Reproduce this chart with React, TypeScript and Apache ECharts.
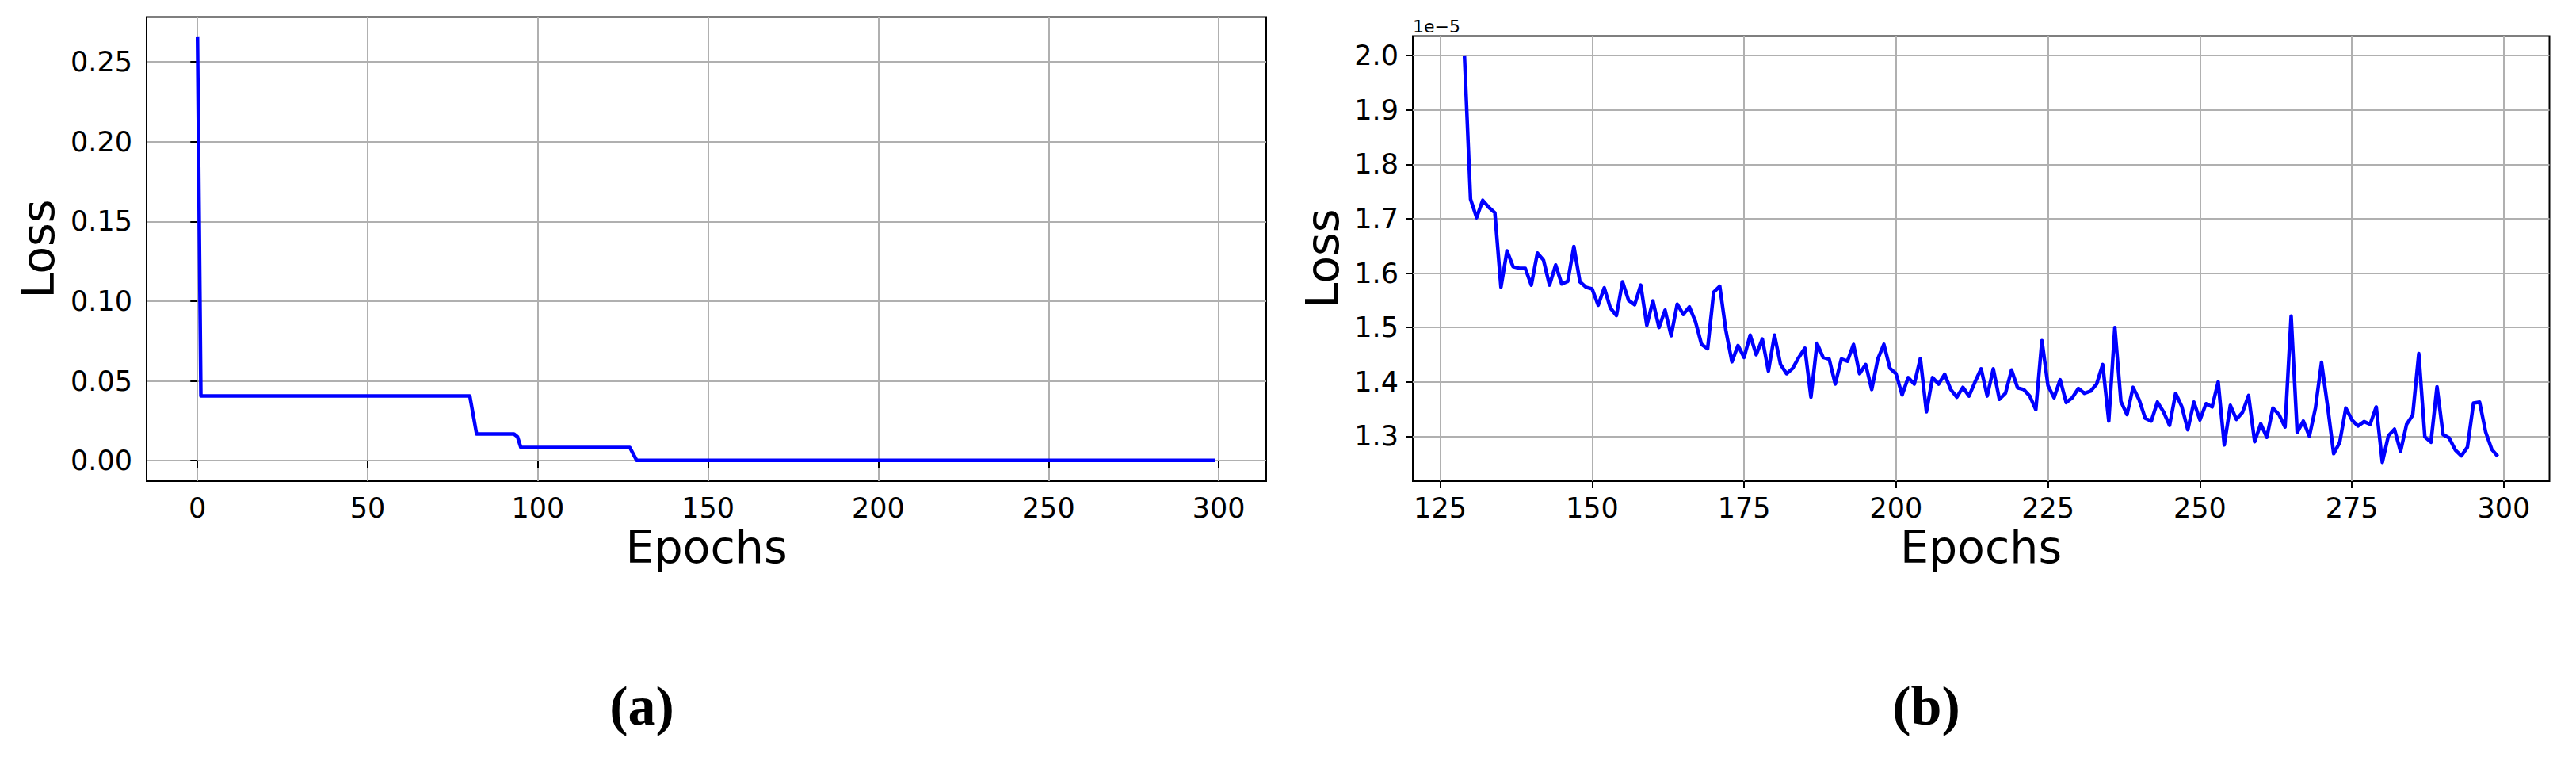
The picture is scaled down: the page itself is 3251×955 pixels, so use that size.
import React, { useEffect, useRef } from "react";
import * as echarts from "echarts";

// ---- Panel (a): full training loss (breakpoints of the piecewise curve) ----
const leftEpochs = [0, 1, 80, 81, 82, 93, 94, 95, 127, 128, 129, 299];
const leftLoss = [0.2655, 0.0406, 0.0406, 0.0286, 0.0167, 0.0167, 0.015, 0.0083, 0.0083, 0.0043, 0.0003, 0.0003];
const leftXTicks = [0, 50, 100, 150, 200, 250, 300];
const leftYTicks = [0, 0.05, 0.1, 0.15, 0.2, 0.25];

// ---- Panel (b): zoomed loss from epoch 129 to 299 (values in units of 1e-5) ----
const rightStartEpoch = 129;
const rightLoss = [
  1.999, 1.736, 1.702, 1.734, 1.721, 1.711, 1.574, 1.641, 1.612, 1.609,
  1.609, 1.578, 1.637, 1.624, 1.578, 1.615, 1.58, 1.585, 1.649, 1.584,
  1.574, 1.571, 1.541, 1.573, 1.536, 1.522, 1.584, 1.55, 1.542, 1.578,
  1.504, 1.549, 1.5, 1.532, 1.485, 1.543, 1.524, 1.538, 1.511, 1.469,
  1.461, 1.565, 1.576, 1.495, 1.437, 1.467, 1.445, 1.486, 1.45, 1.479,
  1.42, 1.486, 1.432, 1.415, 1.425, 1.445, 1.462, 1.372, 1.471, 1.445,
  1.442, 1.396, 1.442, 1.438, 1.469, 1.415, 1.432, 1.386, 1.442, 1.469,
  1.425, 1.415, 1.376, 1.408, 1.396, 1.443, 1.345, 1.408, 1.396, 1.414,
  1.386, 1.372, 1.39, 1.374, 1.4, 1.424, 1.374, 1.424, 1.368, 1.379,
  1.422, 1.389, 1.386, 1.374, 1.349, 1.476, 1.393, 1.371, 1.404, 1.362,
  1.371, 1.388, 1.379, 1.383, 1.396, 1.432, 1.328, 1.5, 1.364, 1.34,
  1.39, 1.367, 1.333, 1.328, 1.363, 1.345, 1.32, 1.379, 1.355, 1.312,
  1.363, 1.33, 1.36, 1.354, 1.4, 1.284, 1.357, 1.331, 1.344, 1.375,
  1.29, 1.323, 1.298, 1.352, 1.34, 1.317, 1.521, 1.307, 1.328, 1.3,
  1.352, 1.436, 1.355, 1.268, 1.289, 1.352, 1.33, 1.319, 1.327, 1.322,
  1.354, 1.252, 1.301, 1.313, 1.272, 1.322, 1.339, 1.452, 1.299, 1.289,
  1.391, 1.303, 1.297, 1.275, 1.264, 1.28, 1.361, 1.363, 1.308, 1.276,
  1.263,
];
const rightXTicks = [125, 150, 175, 200, 225, 250, 275, 300];
const rightYTicks = [1.3, 1.4, 1.5, 1.6, 1.7, 1.8, 1.9, 2.0];

const xLabel = "Epochs";
const yLabel = "Loss";
const offsetText = "1e\u22125";
const captions = ["(a)", "(b)"];

const TICK_FONT = "DejaVu Sans";

function makeXAxis(gridIndex: number, min: number, max: number, ticks: number[]) {
  return {
    type: "value",
    gridIndex,
    min,
    max,
    axisLine: { show: false },
    axisTick: {
      show: true,
      length: 9,
      customValues: ticks,
      lineStyle: { color: "#000", width: 2 },
    },
    axisLabel: {
      customValues: ticks,
      fontFamily: TICK_FONT,
      fontSize: 35,
      color: "#000",
      margin: 16,
      formatter: (v: number) => String(Math.round(v)),
    },
    splitLine: { show: true, lineStyle: { color: "#b0b0b0", width: 2 } },
  };
}

function makeYAxis(gridIndex: number, min: number, max: number, ticks: number[], digits: number) {
  return {
    type: "value",
    gridIndex,
    min,
    max,
    axisLine: { show: false },
    axisTick: {
      show: true,
      length: 9,
      customValues: ticks,
      lineStyle: { color: "#000", width: 2 },
    },
    axisLabel: {
      customValues: ticks,
      fontFamily: TICK_FONT,
      fontSize: 35,
      color: "#000",
      margin: 18,
      formatter: (v: number) => v.toFixed(digits),
    },
    splitLine: { show: true, lineStyle: { color: "#b0b0b0", width: 2 } },
  };
}

function txt(x: number, y: number, text: string, font: string, align = "center", rotation = 0) {
  return {
    type: "text",
    x,
    y,
    rotation,
    z: 100,
    style: {
      text,
      font,
      fill: "#000",
      align,
      textAlign: align,
      verticalAlign: "middle",
      textVerticalAlign: "middle",
    },
  };
}

export default function App() {
  const ref = useRef<HTMLDivElement | null>(null);

  useEffect(() => {
    if (!ref.current) return;
    const chart = echarts.init(ref.current, undefined, { renderer: "svg" });

    const leftData = leftEpochs.map((e, i) => [e, leftLoss[i]]);
    const rightData = rightLoss.map((v, i) => [rightStartEpoch + i, v]);

    const titleFont = '57px "DejaVu Sans"';
    const capFont = 'bold 70px "Liberation Serif"';

    const option = {
      animation: false,
      backgroundColor: "#fff",
      grid: [
        { left: 185, top: 21.5, width: 1413, height: 585.5, show: true, borderColor: "#000", borderWidth: 2, backgroundColor: "transparent", containLabel: false },
        { left: 1783, top: 45.5, width: 1434.5, height: 561.5, show: true, borderColor: "#000", borderWidth: 2, backgroundColor: "transparent", containLabel: false },
      ],
      xAxis: [
        makeXAxis(0, -14.95, 313.95, leftXTicks),
        makeXAxis(1, 120.5, 307.5, rightXTicks),
      ],
      yAxis: [
        makeYAxis(0, -0.0128, 0.2781, leftYTicks, 2),
        makeYAxis(1, 1.2175, 2.0359, rightYTicks, 1),
      ],
      series: [
        {
          type: "line",
          xAxisIndex: 0,
          yAxisIndex: 0,
          data: leftData,
          symbol: "none",
          showSymbol: false,
          lineStyle: { color: "#0000ff", width: 4.5, join: "round" },
          z: 5,
        },
        {
          type: "line",
          xAxisIndex: 1,
          yAxisIndex: 1,
          data: rightData,
          symbol: "none",
          showSymbol: false,
          lineStyle: { color: "#0000ff", width: 4.5, join: "round" },
          z: 5,
        },
      ],
      graphic: [
        txt(48, 314, yLabel, titleFont, "center", Math.PI / 2),
        txt(891.5, 690, xLabel, titleFont),
        txt(1669, 326, yLabel, titleFont, "center", Math.PI / 2),
        txt(2500, 690, xLabel, titleFont),
        txt(1783, 33, offsetText, '22px "DejaVu Sans"', "left"),
        txt(810, 890, captions[0], capFont),
        txt(2431, 890, captions[1], capFont),
      ],
    };

    chart.setOption(option as any);
    return () => {
      chart.dispose();
    };
  }, []);

  return (
    <div
      ref={ref}
      style={{ position: "absolute", left: 0, top: 0, width: 3251, height: 955, background: "#fff" }}
    />
  );
}
